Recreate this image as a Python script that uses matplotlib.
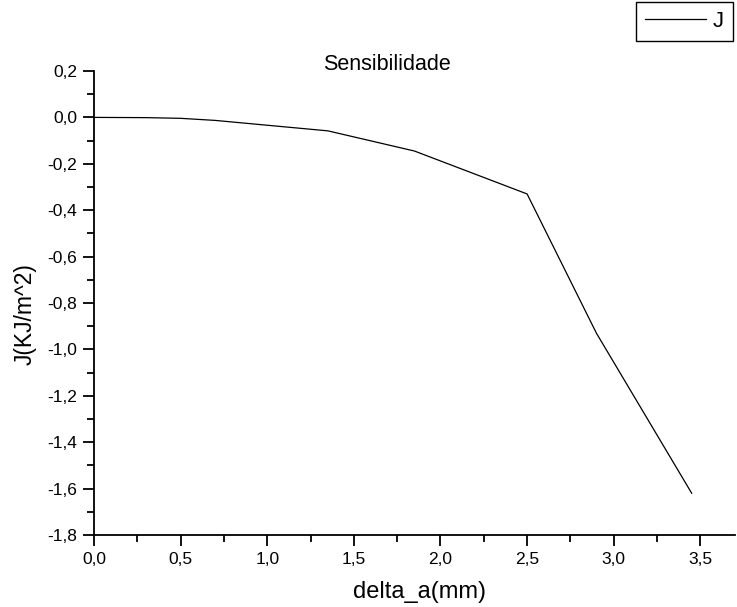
import matplotlib
matplotlib.use("Agg")
import matplotlib.pyplot as plt
from matplotlib.ticker import MultipleLocator, FuncFormatter

plt.rcParams['font.family'] = ['Liberation Sans', 'DejaVu Sans']

# data
delta_a = [0.0, 0.3, 0.5, 0.7, 1.35, 1.85, 2.5, 2.9, 3.45]
J = [0.0, -0.001, -0.004, -0.013, -0.058, -0.145, -0.33, -0.93, -1.62]

W, H = 737, 607
fig = plt.figure(figsize=(W / 100, H / 100), dpi=100)
ax = fig.add_axes([94 / W, 1 - 535 / H, (735 - 94) / W, (535 - 71) / H])

line, = ax.plot(delta_a, J, color='black', lw=0.9, label='J')

ax.set_xlim(0, 3.7)
ax.set_ylim(-1.8, 0.2)
ax.xaxis.set_major_locator(MultipleLocator(0.5))
ax.xaxis.set_minor_locator(MultipleLocator(0.25))
ax.yaxis.set_major_locator(MultipleLocator(0.2))
ax.yaxis.set_minor_locator(MultipleLocator(0.1))
comma = FuncFormatter(lambda v, p: f"{v:.1f}".replace('.', ',').replace('-0,0', '0,0'))
ax.xaxis.set_major_formatter(comma)
ax.yaxis.set_major_formatter(comma)

for s in ['top', 'right']:
    ax.spines[s].set_visible(False)
for s in ['left', 'bottom']:
    ax.spines[s].set_linewidth(1.3)
ax.tick_params(which='major', direction='out', length=8, width=1.3, labelsize=12.5, pad=4)
ax.tick_params(which='minor', direction='out', length=5, width=1.3)

# labels and title placed in figure pixels
fig.text(420 / W, 1 - 592 / H, 'delta_a(mm)', fontsize=17, ha='center', va='center')
fig.text(25 / W, 1 - 314 / H, 'J(KJ/m^2)', fontsize=16.5, ha='center', va='center', rotation=90)
fig.text(387 / W, 1 - 64 / H, 'Sensibilidade', fontsize=15.5, ha='center', va='center')

leg = fig.legend(handles=[line], loc='upper right', bbox_to_anchor=(733 / W, 1 - 2 / H),
                 fontsize=16, fancybox=False, framealpha=1, edgecolor='black',
                 handlelength=2.75, handletextpad=0.3, borderaxespad=0, borderpad=0.4)
leg.get_frame().set_linewidth(1.0)

fig.savefig('out.png', dpi=100)
